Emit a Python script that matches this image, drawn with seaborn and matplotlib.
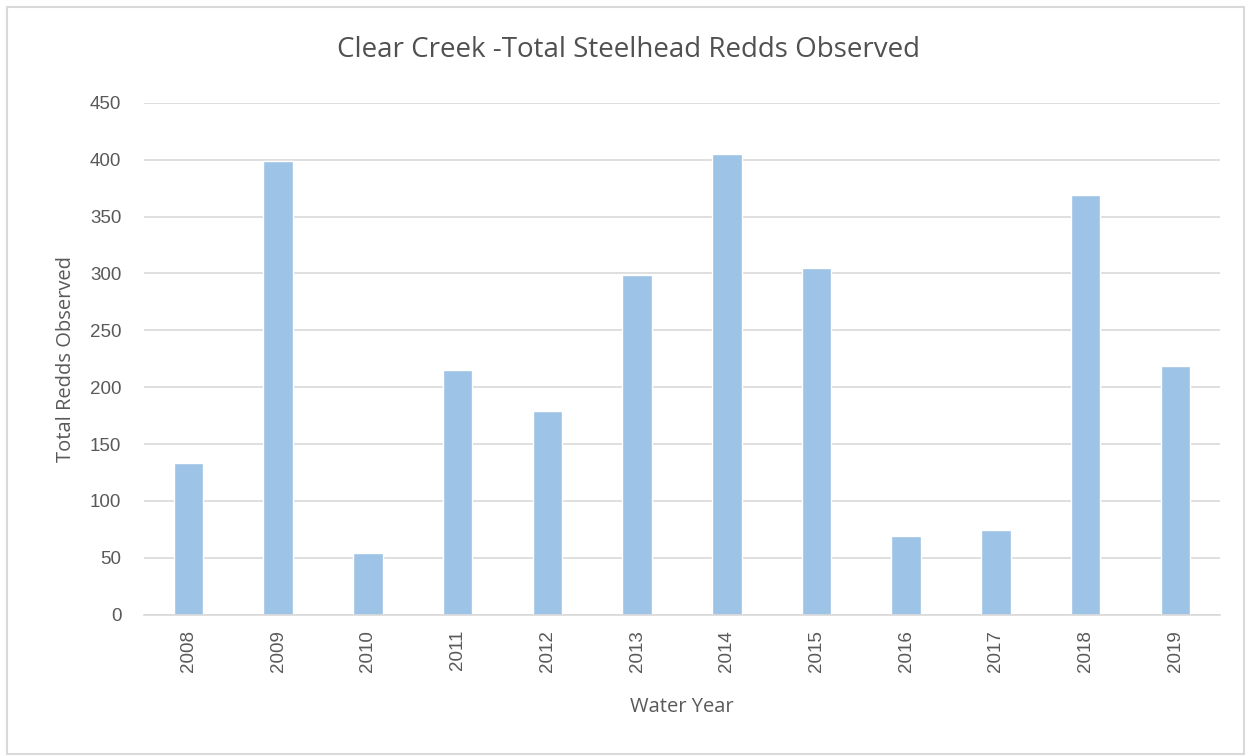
import pandas as pd
import matplotlib.pyplot as plt
import seaborn as sns
from matplotlib.patches import Rectangle

# Data
years = ["2008", "2009", "2010", "2011", "2012", "2013",
         "2014", "2015", "2016", "2017", "2018", "2019"]
redds = [133, 399, 54, 215, 179, 299, 405, 305, 69, 74, 369, 219]

df = pd.DataFrame({"Water Year": years, "Redds": redds})

sns.set_style("white")
plt.rcParams["font.family"] = ["Liberation Sans", "DejaVu Sans"]

fig = plt.figure(figsize=(12.49, 7.56), dpi=100)
ax = fig.add_axes([0.115, 0.187, 0.862, 0.677])

sns.barplot(data=df, x="Water Year", y="Redds", color="#9DC3E6",
            saturation=1, width=0.33, ax=ax)

ax.set_ylim(0, 450)
ax.set_yticks(range(0, 451, 50))
ax.yaxis.grid(True, color="#D9D9D9", linewidth=1.2)
ax.set_axisbelow(True)
for s in ["top", "right", "left"]:
    ax.spines[s].set_visible(False)
ax.spines["bottom"].set_color("#D9D9D9")
ax.spines["bottom"].set_linewidth(1.2)
ax.tick_params(axis="both", length=0, labelsize=13.5, colors="#595959")
ax.tick_params(axis="y", pad=16)
ax.tick_params(axis="x", rotation=90, pad=11)

ax.set_xlabel("Water Year", fontsize=14.5, color="#595959", family="Open Sans", labelpad=18)
ax.set_ylabel("Total Redds Observed", fontsize=14.5, color="#595959", family="Open Sans", labelpad=10)
fig.suptitle("Clear Creek -Total Steelhead Redds Observed", x=0.503, y=0.934,
             va="center", fontsize=20, color="#505050", family="Open Sans")

# chart border
fig.patches.append(Rectangle((0.006, 0.003), 0.99, 0.988, transform=fig.transFigure,
                             fill=False, edgecolor="#D9D9D9", linewidth=1.5))

fig.savefig("out.png", dpi=100, facecolor="white")
